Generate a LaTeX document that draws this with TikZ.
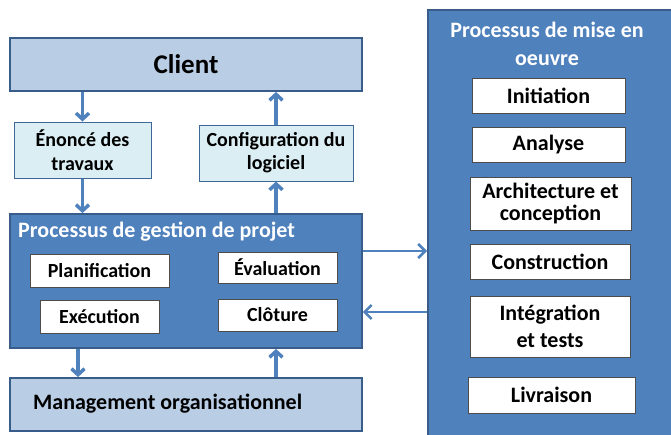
\documentclass[tikz,border=0pt]{standalone}
\usepackage{fontspec}
\setmainfont{Carlito}
\usetikzlibrary{arrows.meta}

\definecolor{accent}{HTML}{4F81BD}
\definecolor{accentdark}{HTML}{385D8A}
\definecolor{lightfill}{HTML}{B9CDE5}
\definecolor{palefill}{HTML}{DBEEF4}

\begin{document}
\begin{tikzpicture}[x=1pt, y=-1pt]
  \tikzset{
    txt/.style={font=\fontsize{20}{23}\selectfont\bfseries, align=center, inner sep=0pt},
    big/.style={font=\fontsize{22}{26}\selectfont\bfseries},
    band/.style={draw=accentdark, line width=1.8pt, fill=lightfill, inner sep=0pt},
    doc/.style={txt, draw=accent!80!black, line width=1pt, fill=palefill},
    group/.style={draw=accentdark, line width=1.8pt, fill=accent, inner sep=0pt},
    task/.style={txt, draw=black!70, line width=1pt, fill=white},
    stage/.style={task, big},
    title/.style={txt, big, text=white},
    flow/.style={-{Straight Barb[length=6pt, width=13pt]}, draw=accent, line width=3.5pt},
    link/.style={-{Straight Barb[length=7pt, width=14pt]}, draw=accent, line width=2.5pt}
  }
  \useasboundingbox (0,0) rectangle (671,434);

  % client side
  \node[band, minimum width=352pt, minimum height=53pt] (client) at (186,64.5) {};
  \node[txt, font=\fontsize{27}{30}\selectfont\bfseries] at (client) {Client};
  \node[doc, minimum width=137pt, minimum height=56pt] (enonce) at (82.5,150) {Énoncé des\\[1pt]travaux};
  \node[doc, minimum width=154pt, minimum height=56pt] (config) at (276,153) {Configuration du\\logiciel};

  % project management
  \node[group, minimum width=352pt, minimum height=134pt] (pgp) at (186,281) {};
  \node[title, anchor=west] (pgptitle) at (18,232) {Processus de gestion de projet};
  \node[task, minimum width=139pt, minimum height=33pt] (planif) at (99.5,270.5) {Planification};
  \node[task, minimum width=119pt, minimum height=31pt] (evaluation) at (277.5,267.5) {Évaluation};
  \node[task, minimum width=119pt, minimum height=33pt] (execution) at (99.5,316.5) {Exécution};
  \node[task, minimum width=119pt, minimum height=32pt] (cloture) at (277.5,315) {Clôture};

  \node[band, minimum width=352pt, minimum height=53pt] (mgmt) at (186,404.5) {};
  \node[txt, big, anchor=west] at (33,404) {Management organisationnel};

  % implementation process, runs off the page
  \node[group, minimum width=260pt, minimum height=440pt, anchor=north west] (mise) at (427,9) {};
  \node[title] (misetitle) at (547,43.5) {Processus de mise en\\[2pt]oeuvre};
  \node[stage, minimum width=153pt, minimum height=35pt] (initiation) at (548.5,95.5) {Initiation};
  \node[stage, minimum width=153pt, minimum height=35pt] (analyse) at (548.5,144.5) {Analyse};
  \node[stage, minimum width=161pt, minimum height=53pt] (archi) at (550.5,203.5) {Architecture et\\[-4pt]conception};
  \node[stage, minimum width=160pt, minimum height=35pt] (construction) at (550,261.5) {Construction};
  \node[stage, minimum width=160pt, minimum height=61pt] (integration) at (550,326.5) {Intégration\\[1pt]et tests};
  \node[stage, minimum width=167pt, minimum height=36pt] (livraison) at (551.5,395) {Livraison};

  % arrows
  \draw[flow] (enonce |- client.south) -- (enonce.north);
  \draw[flow] (enonce.south) -- (enonce |- pgp.north);
  \draw[flow] (config |- pgp.north) -- (config.south);
  \draw[flow] (config.north) -- (config |- client.south);
  \draw[flow] ([xshift=-108pt]pgp.south) -- ([xshift=-108pt]mgmt.north);
  \draw[flow] ([xshift=90pt]mgmt.north) -- ([xshift=90pt]pgp.south);
  \draw[link] ([yshift=30pt]pgp.east) -- ([yshift=30pt]pgp.east -| mise.west);
  \draw[link] ([yshift=-31pt]pgp.east -| mise.west) -- ([yshift=-31pt]pgp.east);
\end{tikzpicture}
\end{document}
